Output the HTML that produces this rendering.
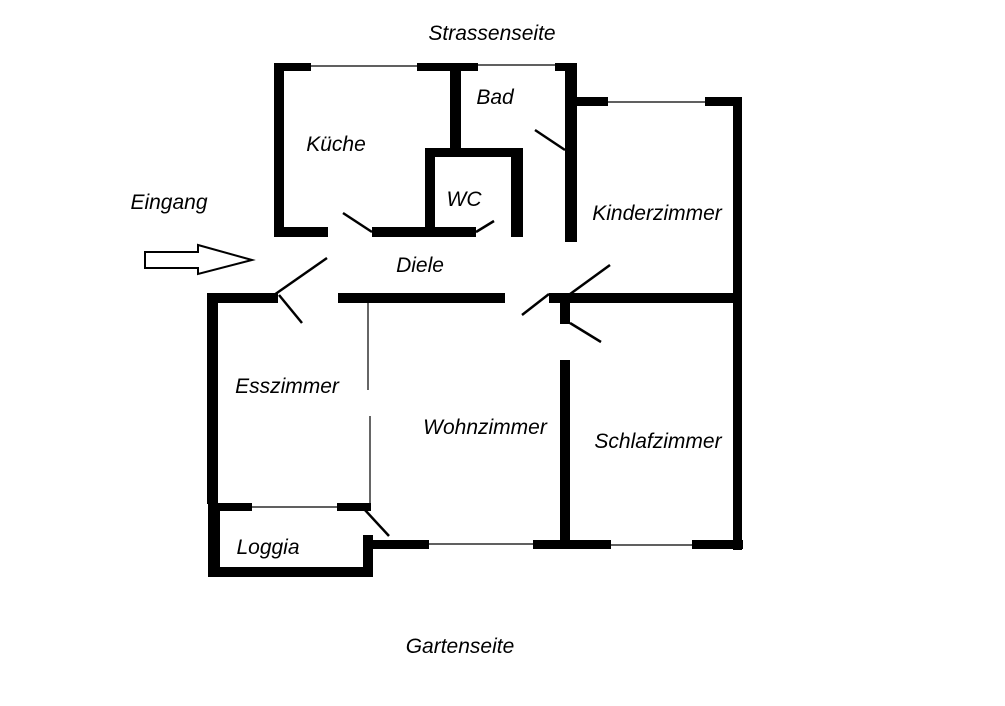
<!DOCTYPE html>
<html><head><meta charset="utf-8"><style>
html,body{margin:0;padding:0;background:#fff;}
svg{display:block}
text{font-family:"Liberation Sans",sans-serif;font-style:italic;font-size:21px;fill:#000}
</style></head><body>
<svg width="1005" height="706" viewBox="0 0 1005 706" xmlns="http://www.w3.org/2000/svg">
<rect width="1005" height="706" fill="#fff"/>
<g fill="#000">
<rect x="274" y="63" width="10" height="174"/>
<rect x="274" y="63" width="37" height="8"/>
<rect x="417" y="63" width="61" height="8"/>
<rect x="450" y="63" width="11" height="88"/>
<rect x="274" y="227" width="54" height="10"/>
<rect x="372" y="227" width="104" height="10"/>
<rect x="425" y="148" width="98" height="9"/>
<rect x="425" y="148" width="10" height="89"/>
<rect x="511" y="148" width="12" height="89"/>
<rect x="555" y="63" width="22" height="8"/>
<rect x="565" y="63" width="12" height="179"/>
<rect x="577" y="97" width="31" height="9"/>
<rect x="705" y="97" width="36" height="9"/>
<rect x="733" y="97" width="9" height="453"/>
<rect x="207" y="293" width="71" height="10"/>
<rect x="207" y="293" width="11" height="211"/>
<rect x="338" y="293" width="167" height="10"/>
<rect x="549" y="293" width="192" height="10"/>
<rect x="560" y="293" width="10" height="31"/>
<rect x="560" y="360" width="10" height="189"/>
<rect x="208" y="503" width="44" height="8"/>
<rect x="337" y="503" width="29" height="8"/>
<rect x="363" y="503" width="8" height="8"/>
<rect x="208" y="503" width="12" height="74"/>
<rect x="208" y="567" width="165" height="10"/>
<rect x="363" y="535" width="10" height="42"/>
<rect x="373" y="540" width="56" height="9"/>
<rect x="533" y="540" width="78" height="9"/>
<rect x="692" y="540" width="51" height="9"/>
</g>
<g stroke="#000" stroke-width="1.2" fill="none">
<line x1="311" y1="66" x2="417" y2="66"/>
<line x1="478" y1="65" x2="555" y2="65"/>
<line x1="608" y1="102" x2="705" y2="102"/>
<line x1="368" y1="303" x2="368" y2="390"/>
<line x1="370" y1="416" x2="370" y2="507"/>
<line x1="252" y1="507" x2="337" y2="507"/>
<line x1="429" y1="544" x2="533" y2="544"/>
<line x1="611" y1="545" x2="692" y2="545"/>
</g>
<g stroke="#000" stroke-width="2.5" fill="none">
<line x1="343" y1="213" x2="372" y2="232"/>
<line x1="476" y1="232" x2="494" y2="221"/>
<line x1="535" y1="130" x2="565" y2="150"/>
<line x1="274" y1="295" x2="327" y2="258"/>
<line x1="279" y1="295" x2="302" y2="323"/>
<line x1="522" y1="315" x2="549" y2="294"/>
<line x1="566" y1="297" x2="610" y2="265"/>
<line x1="570" y1="323" x2="601" y2="342"/>
<line x1="365" y1="510" x2="389" y2="536"/>
</g>
<polygon points="145,252 198,252 198,245 252,260 198,274 198,268 145,268" fill="#fff" stroke="#000" stroke-width="2"/>
<text x="492" y="40" text-anchor="middle">Strassenseite</text>
<text x="460" y="653" text-anchor="middle">Gartenseite</text>
<text x="169" y="209" text-anchor="middle">Eingang</text>
<text x="336" y="151" text-anchor="middle">Küche</text>
<text x="495" y="104" text-anchor="middle">Bad</text>
<text x="464" y="206" text-anchor="middle">WC</text>
<text x="657" y="220" text-anchor="middle">Kinderzimmer</text>
<text x="420" y="272" text-anchor="middle">Diele</text>
<text x="287" y="393" text-anchor="middle">Esszimmer</text>
<text x="485" y="434" text-anchor="middle">Wohnzimmer</text>
<text x="658" y="448" text-anchor="middle">Schlafzimmer</text>
<text x="268" y="554" text-anchor="middle">Loggia</text>
</svg>
</body></html>
